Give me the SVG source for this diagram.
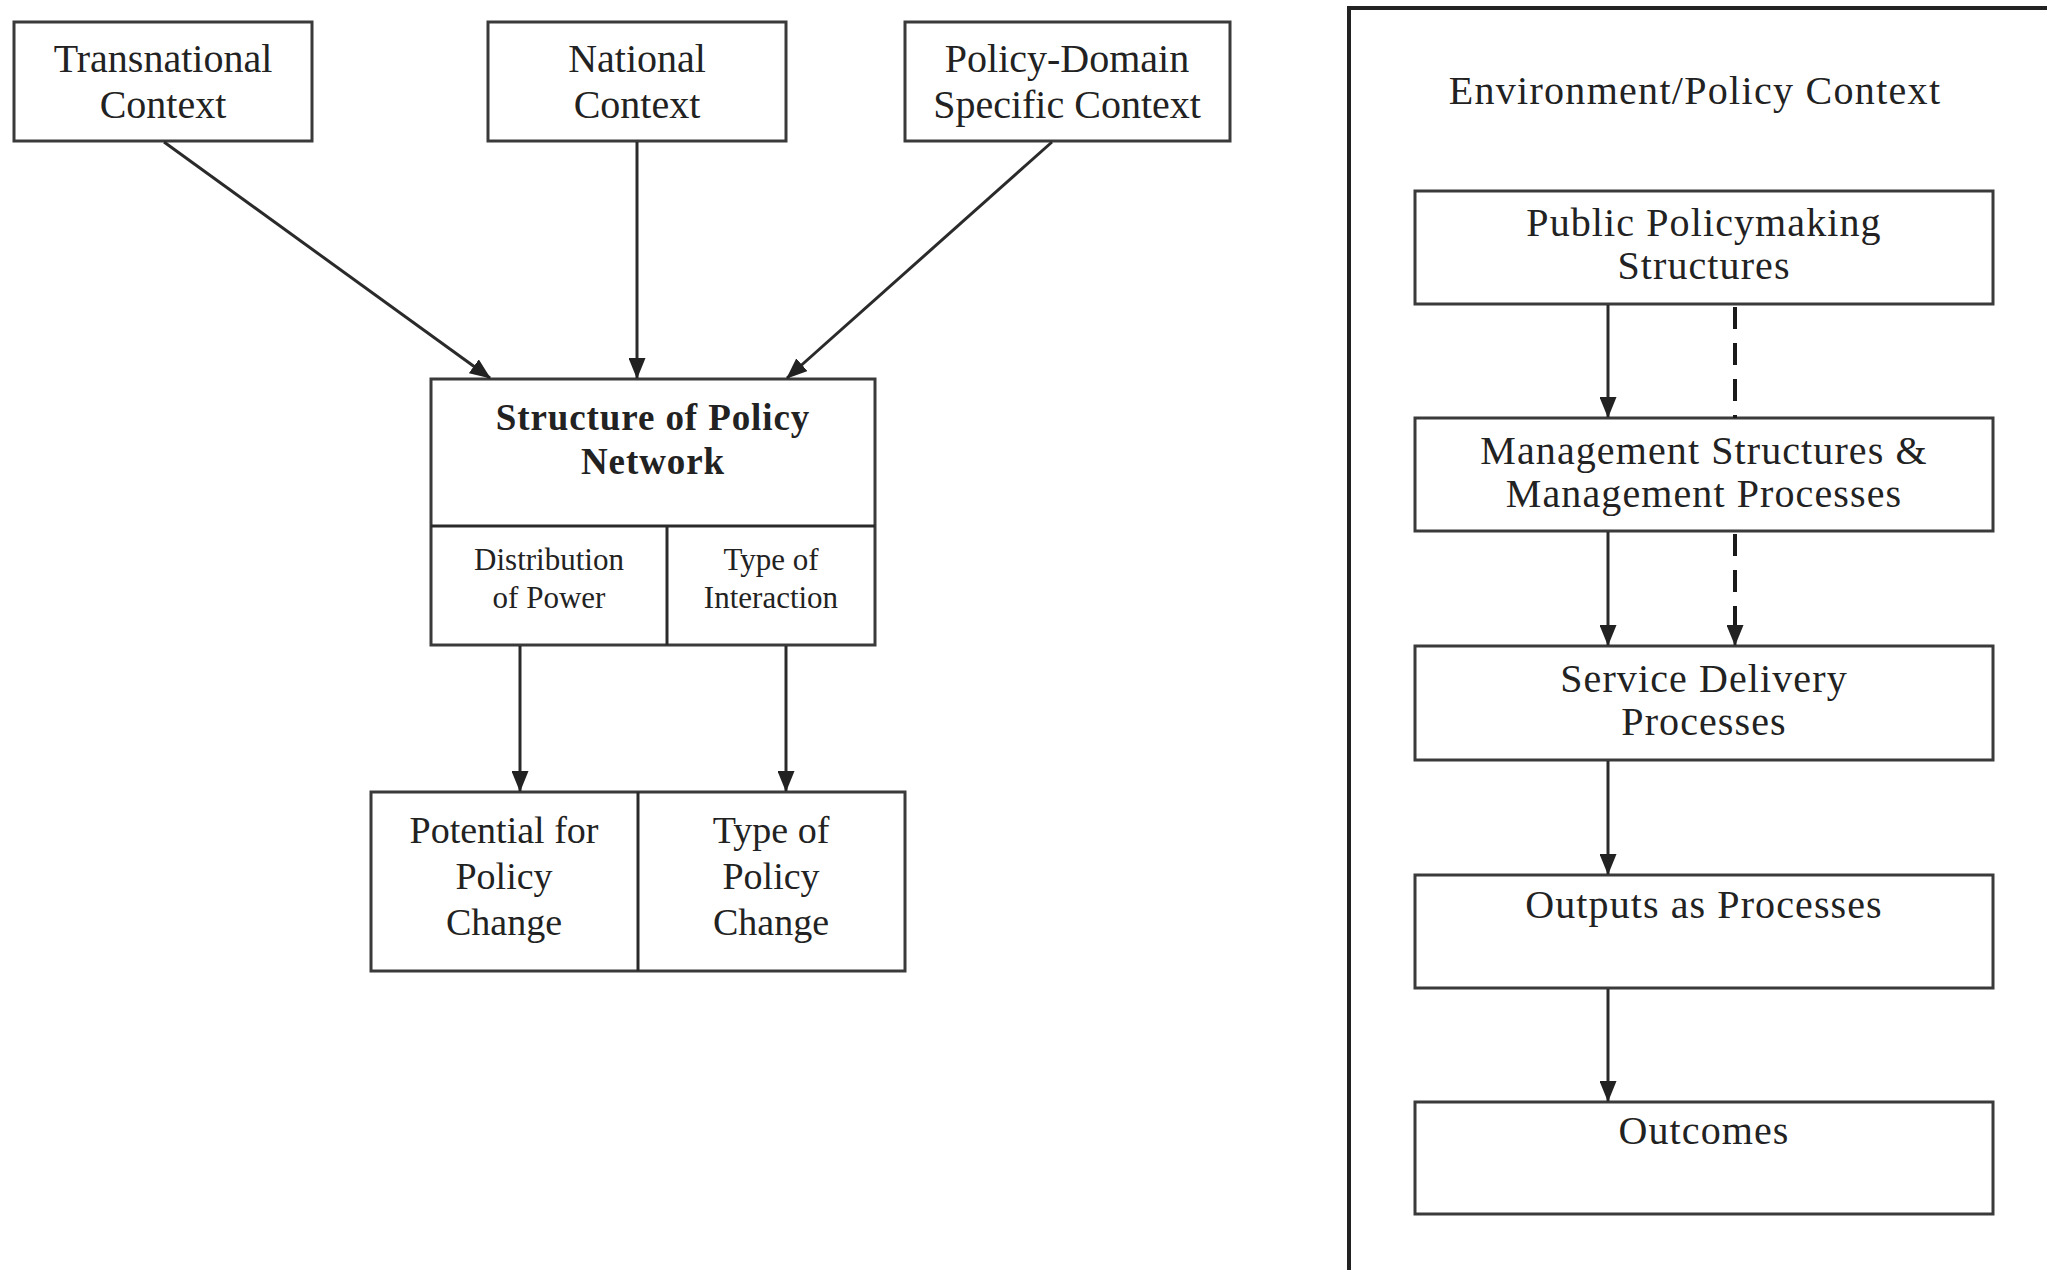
<svg xmlns="http://www.w3.org/2000/svg" width="2047" height="1270" viewBox="0 0 2047 1270">
<style>
.box{fill:#fff;stroke:#3a3a3a;stroke-width:3}
.t{font-family:"Liberation Serif","Times New Roman",serif;fill:#222;text-anchor:middle}
.big{font-size:40px}
.bold{font-size:37px;font-weight:bold;letter-spacing:0.9px}
.small{font-size:31px}
.mid{font-size:38px}
.rt{font-size:40px;letter-spacing:1.1px}
.ttl{font-size:40px;letter-spacing:1.3px}
.ln{stroke:#2a2a2a;stroke-width:3;fill:none}
.dash{stroke:#1a1a1a;stroke-width:4;fill:none;stroke-dasharray:22 14}
</style>
<defs>
<marker id="ah" markerWidth="21" markerHeight="17" refX="20" refY="8.5" orient="auto" markerUnits="userSpaceOnUse">
<path d="M0,0 L21,8.5 L0,17 Z" fill="#222"/>
</marker>
</defs>
<rect width="2047" height="1270" fill="#fff"/>

<g id="transnational">
<rect class="box" x="14" y="22" width="298" height="119"/>
<text class="t big" x="163" y="72">Transnational</text>
<text class="t big" x="163" y="118">Context</text>
</g>
<g id="national">
<rect class="box" x="488" y="22" width="298" height="119"/>
<text class="t big" x="637" y="72">National</text>
<text class="t big" x="637" y="118">Context</text>
</g>
<g id="policy-domain">
<rect class="box" x="905" y="22" width="325" height="119"/>
<text class="t big" x="1067" y="72">Policy-Domain</text>
<text class="t big" x="1067" y="118">Specific Context</text>
</g>

<g id="structure">
<rect class="box" x="431" y="379" width="444" height="266"/>
<line class="ln" x1="431" y1="526" x2="875" y2="526"/>
<line class="ln" x1="667" y1="526" x2="667" y2="645"/>
<text class="t bold" x="653" y="430">Structure of Policy</text>
<text class="t bold" x="653" y="474">Network</text>
<text class="t small" x="549" y="570">Distribution</text>
<text class="t small" x="549" y="608">of Power</text>
<text class="t small" x="771" y="570">Type of</text>
<text class="t small" x="771" y="608">Interaction</text>
</g>

<g id="policy-change">
<rect class="box" x="371" y="792" width="534" height="179"/>
<line class="ln" x1="638" y1="792" x2="638" y2="971"/>
<text class="t mid" x="504" y="843">Potential for</text>
<text class="t mid" x="504" y="889">Policy</text>
<text class="t mid" x="504" y="935">Change</text>
<text class="t mid" x="771" y="843">Type of</text>
<text class="t mid" x="771" y="889">Policy</text>
<text class="t mid" x="771" y="935">Change</text>
</g>

<g id="environment">
<path d="M1349,1270 L1349,8 L2047,8" fill="none" stroke="#222" stroke-width="4"/>
<text class="t ttl" x="1695" y="104">Environment/Policy Context</text>
</g>
<g id="public-policymaking">
<rect class="box" x="1415" y="191" width="578" height="113"/>
<text class="t rt" x="1704" y="236">Public Policymaking</text>
<text class="t rt" x="1704" y="279">Structures</text>
</g>
<g id="management">
<rect class="box" x="1415" y="418" width="578" height="113"/>
<text class="t rt" x="1704" y="464">Management Structures &amp;</text>
<text class="t rt" x="1704" y="507">Management Processes</text>
</g>
<g id="service-delivery">
<rect class="box" x="1415" y="646" width="578" height="114"/>
<text class="t rt" x="1704" y="692">Service Delivery</text>
<text class="t rt" x="1704" y="735">Processes</text>
</g>
<g id="outputs">
<rect class="box" x="1415" y="875" width="578" height="113"/>
<text class="t rt" x="1704" y="918">Outputs as Processes</text>
</g>
<g id="outcomes">
<rect class="box" x="1415" y="1102" width="578" height="112"/>
<text class="t rt" x="1704" y="1144">Outcomes</text>
</g>

<g id="connectors">
<line class="ln" x1="164" y1="142" x2="490" y2="378" marker-end="url(#ah)"/>
<line class="ln" x1="637" y1="142" x2="637" y2="378" marker-end="url(#ah)"/>
<line class="ln" x1="1052" y1="142" x2="787" y2="378" marker-end="url(#ah)"/>
<line class="ln" x1="520" y1="646" x2="520" y2="791" marker-end="url(#ah)"/>
<line class="ln" x1="786" y1="646" x2="786" y2="791" marker-end="url(#ah)"/>
<line class="ln" x1="1608" y1="305" x2="1608" y2="417" marker-end="url(#ah)"/>
<line class="ln" x1="1608" y1="532" x2="1608" y2="645" marker-end="url(#ah)"/>
<line class="ln" x1="1608" y1="761" x2="1608" y2="874" marker-end="url(#ah)"/>
<line class="ln" x1="1608" y1="989" x2="1608" y2="1101" marker-end="url(#ah)"/>
<line class="dash" x1="1735" y1="307" x2="1735" y2="418"/>
<line class="dash" x1="1735" y1="534" x2="1735" y2="628"/>
<line class="ln" x1="1735" y1="626" x2="1735" y2="645" marker-end="url(#ah)"/>
</g>
</svg>
